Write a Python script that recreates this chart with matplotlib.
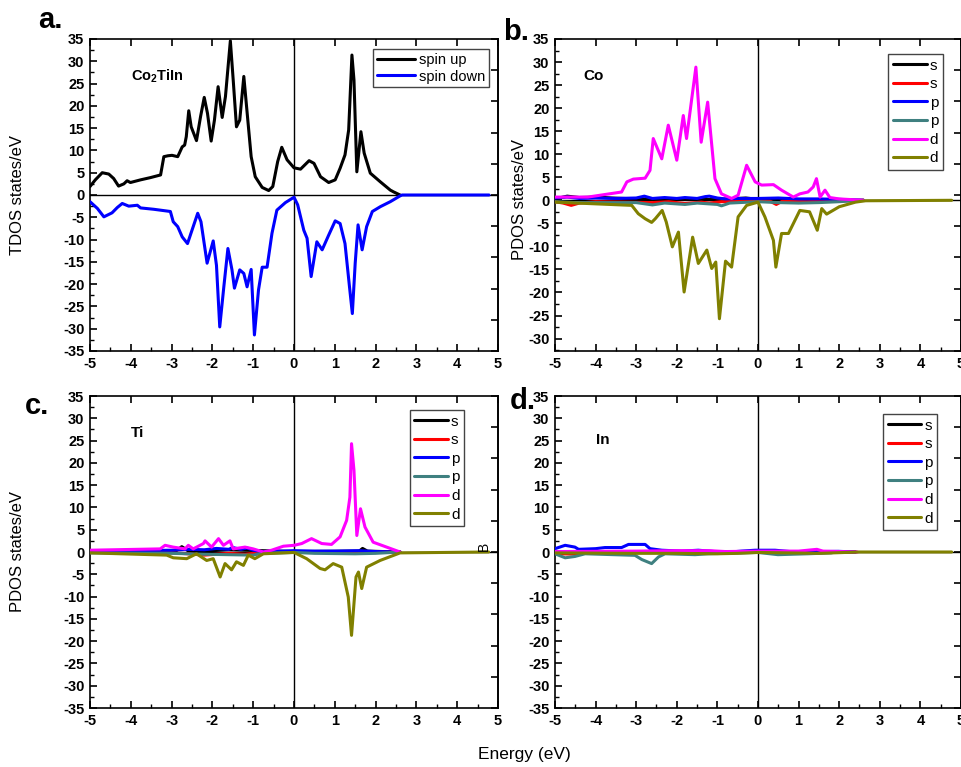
import numpy as np
import matplotlib
matplotlib.use("Agg")
import matplotlib.pyplot as plt
from matplotlib.ticker import MultipleLocator

plt.rcParams['font.family'] = ['Liberation Sans', 'DejaVu Sans']
plt.rcParams['mathtext.fontset'] = 'custom'
plt.rcParams['mathtext.bf'] = 'Liberation Sans:bold'
plt.rcParams['mathtext.rm'] = 'Liberation Sans'

# ---------------- panel a: total DOS of Co2TiIn ----------------
tdos_up_x = [-5.0, -4.87, -4.70, -4.54, -4.42, -4.30, -4.17, -4.09, -4.01, -3.76, -3.52, -3.27,
             -3.19, -3.09, -2.99, -2.85, -2.74, -2.68, -2.64, -2.58, -2.52, -2.39, -2.29, -2.20,
             -2.12, -2.03, -1.95, -1.86, -1.76, -1.68, -1.56, -1.49, -1.41, -1.33, -1.23, -1.14,
             -1.05, -0.95, -0.78, -0.62, -0.52, -0.40, -0.30, -0.17, 0.0, 0.16, 0.37, 0.49, 0.65,
             0.85, 1.01, 1.13, 1.25, 1.34, 1.42, 1.47, 1.54, 1.64, 1.72, 1.87, 2.11, 2.36, 2.44, 2.6]
tdos_up_y = [1.9, 3.4, 5.0, 4.7, 3.7, 2.0, 2.5, 3.2, 2.8, 3.4, 3.9, 4.5,
             8.6, 8.8, 8.9, 8.6, 10.8, 11.2, 13.1, 18.9, 15.3, 12.2, 17.6, 21.9,
             18.3, 12.1, 16.8, 24.3, 17.4, 22.1, 34.6, 25.8, 15.3, 16.8, 26.6, 17.6,
             8.6, 4.1, 1.7, 1.0, 1.9, 7.5, 10.7, 7.9, 6.1, 5.8, 7.7, 7.1, 4.1,
             2.8, 3.4, 6.0, 9.0, 14.6, 31.4, 25.8, 5.2, 14.2, 9.4, 4.9, 3.0, 1.1, 0.7, 0.0]

tdos_dn_x = [-5.0, -4.82, -4.66, -4.46, -4.33, -4.21, -4.05, -3.84, -3.76, -3.44, -3.03, -2.96,
             -2.85, -2.74, -2.61, -2.50, -2.36, -2.28, -2.13, -1.98, -1.90, -1.82, -1.72, -1.62,
             -1.52, -1.46, -1.33, -1.23, -1.15, -1.05, -0.97, -0.87, -0.78, -0.66, -0.54, -0.42,
             -0.21, 0.0, 0.09, 0.24, 0.32, 0.42, 0.56, 0.69, 0.85, 1.01, 1.13, 1.25, 1.36, 1.43,
             1.50, 1.57, 1.67, 1.78, 1.92, 2.12, 2.36, 2.6, 2.65, 3.5, 4.78]
tdos_dn_y = [-1.5, -3.0, -4.9, -4.0, -2.8, -1.9, -2.5, -2.3, -2.9, -3.2, -3.7, -6.0,
             -7.1, -9.4, -10.9, -7.9, -4.1, -6.0, -15.3, -10.3, -15.8, -29.6, -20.6, -12.0,
             -16.8, -20.9, -16.8, -17.6, -20.6, -16.7, -31.4, -21.3, -16.2, -16.2, -8.6, -3.4,
             -1.7, -0.5, -2.2, -7.9, -9.7, -18.3, -10.5, -12.3, -9.0, -5.8, -6.4, -10.9, -20.6, -26.6,
             -15.3, -6.7, -12.3, -7.1, -3.7, -2.6, -1.5, -0.2, 0.0, 0.0, 0.0]

# ---------------- panel b: Co projected DOS ----------------
co_s_up_x = [-5.0, -4.7, -4.4, -4.0, -3.6, -3.0, -2.0, -1.0, -0.3, 0.0, 1.0, 2.6]
co_s_up_y = [0.3, 0.9, 0.6, 0.7, 0.5, 0.3, 0.2, 0.15, 0.5, 0.2, 0.1, 0.0]
co_s_dn_x = [-5.0, -4.8, -4.6, -4.4, -4.0, -2.6, -2.2, -1.8, -1.4, -1.2, -0.9, 0.0, 0.3, 0.45, 0.6, 1.2, 1.6, 2.6]
co_s_dn_y = [-0.3, -0.6, -1.1, -0.6, -0.3, -0.5, -0.3, -0.7, -0.4, -0.6, -0.3, -0.1, -0.2, -0.9, -0.2, -0.3, -0.2, 0.0]
co_p_up_x = [-5.0, -4.7, -4.4, -4.0, -3.5, -3.0, -2.8, -2.6, -2.3, -2.0, -1.8, -1.5, -1.3, -1.2, -1.0,
             -0.8, -0.5, 0.0, 0.5, 1.0, 1.5, 2.0, 2.6]
co_p_up_y = [0.5, 0.7, 0.4, 0.5, 0.4, 0.5, 0.9, 0.4, 0.6, 0.4, 0.6, 0.4, 0.8, 0.9, 0.5,
             0.3, 0.4, 0.4, 0.5, 0.3, 0.3, 0.2, 0.0]
co_p_dn_x = [-5.0, -4.5, -3.0, -2.6, -2.3, -1.8, -1.5, -1.0, -0.9, -0.7, 0.0, 0.5, 1.0, 1.5, 2.0, 2.6]
co_p_dn_y = [-0.3, -0.5, -0.5, -1.0, -0.6, -0.9, -0.6, -0.9, -1.2, -0.6, -0.3, -0.5, -0.6, -0.5, -0.3, 0.0]
co_d_up_x = [-5.0, -4.19, -3.36, -3.23, -3.07, -2.78, -2.66, -2.58, -2.37, -2.21, -2.0, -1.84, -1.76,
             -1.53, -1.40, -1.24, -1.06, -0.90, -0.65, -0.49, -0.28, -0.07, 0.09, 0.38, 0.58, 0.87,
             1.03, 1.23, 1.36, 1.44, 1.53, 1.65, 1.77, 2.0, 2.6]
co_d_up_y = [0.7, 0.7, 1.8, 4.0, 4.6, 4.8, 6.5, 13.4, 9.0, 16.3, 8.7, 18.4, 13.4,
             28.9, 12.6, 21.3, 4.7, 1.4, 0.4, 1.1, 7.6, 4.0, 3.3, 3.4, 2.2, 0.7,
             1.4, 1.8, 2.9, 4.7, 0.7, 2.2, 0.6, 0.3, 0.0]
co_d_dn_x = [-5.0, -3.11, -2.95, -2.78, -2.62, -2.53, -2.36, -2.26, -2.11, -1.96, -1.82, -1.61, -1.47,
             -1.26, -1.14, -1.04, -0.95, -0.80, -0.65, -0.49, -0.28, 0.0, 0.17, 0.38, 0.44, 0.58,
             0.75, 1.03, 1.27, 1.46, 1.57, 1.69, 2.0, 2.4, 2.65, 4.77]
co_d_dn_y = [-0.4, -1.1, -2.9, -4.0, -4.8, -4.0, -2.2, -4.7, -10.1, -6.9, -19.9, -8.0, -13.7,
             -10.8, -14.8, -13.4, -25.7, -13.2, -14.5, -3.6, -1.1, -0.4, -3.6, -8.7, -14.5, -7.2,
             -7.2, -2.2, -2.5, -6.5, -1.8, -3.0, -1.4, -0.4, -0.1, 0.0]

# ---------------- panel c: Ti projected DOS ----------------
ti_s_up_x = [-5.0, -2.9, -2.75, -2.6, -2.0, -1.6, -1.2, 0.0, 1.6, 1.68, 1.8, 2.6]
ti_s_up_y = [0.1, 0.2, 1.2, 0.3, 0.3, 0.5, 0.4, 0.1, 0.2, 0.8, 0.2, 0.0]
ti_s_dn_x = [-5.0, -3.0, -2.6, -2.2, -1.9, -1.6, -1.2, -0.8, 0.0, 2.6]
ti_s_dn_y = [-0.1, -0.2, -0.4, -0.7, -0.5, -0.3, -0.5, -0.1, 0.0, 0.0]
ti_p_up_x = [-5.0, -4.0, -3.0, -2.6, -2.2, -1.9, -1.6, -1.5, -1.3, -1.15, -1.0, -0.8, -0.3, 0.0,
             0.5, 1.0, 1.6, 2.0, 2.6]
ti_p_up_y = [0.3, 0.3, 0.4, 0.6, 0.5, 0.8, 0.6, 1.0, 0.6, 0.9, 0.4, 0.1, 0.2, 0.3,
             0.2, 0.2, 0.3, 0.1, 0.0]
ti_p_dn_x = [-5.0, -3.0, -2.2, -1.6, -1.0, -0.8, 0.0, 0.5, 1.5, 2.0, 2.6]
ti_p_dn_y = [-0.2, -0.3, -0.5, -0.6, -0.7, -0.3, -0.1, -0.3, -0.4, -0.3, 0.0]
ti_d_up_x = [-5.0, -3.28, -3.16, -2.96, -2.67, -2.59, -2.47, -2.22, -2.18, -2.02, -1.85, -1.73,
             -1.57, -1.49, -1.2, -1.0, -0.75, -0.55, -0.26, 0.0, 0.19, 0.43, 0.68, 0.92, 1.13,
             1.29, 1.37, 1.41, 1.47, 1.54, 1.63, 1.74, 1.94, 2.27, 2.6]
ti_d_up_y = [0.4, 0.7, 1.5, 1.1, 0.7, 1.5, 0.7, 1.9, 2.5, 1.1, 3.0, 1.5,
             2.5, 0.7, 1.1, 0.7, 0.0, 0.4, 1.3, 1.5, 1.9, 3.0, 1.9, 1.7, 3.4,
             7.1, 12.3, 24.3, 18.3, 3.7, 9.7, 5.6, 2.2, 1.1, 0.0]
ti_d_dn_x = [-5.0, -3.12, -2.96, -2.63, -2.39, -2.14, -1.98, -1.81, -1.69, -1.53, -1.41, -1.24,
             -1.12, -0.96, -0.75, 0.0, 0.31, 0.64, 0.76, 0.96, 1.17, 1.33, 1.41, 1.52, 1.58,
             1.66, 1.78, 2.11, 2.6, 4.77]
ti_d_dn_y = [-0.2, -0.7, -1.3, -1.5, -0.4, -1.9, -1.5, -5.6, -2.6, -4.0, -2.2, -3.0,
             -0.7, -1.5, -0.4, -0.1, -1.5, -3.7, -4.0, -2.6, -3.4, -10.1, -18.7, -5.6, -4.5,
             -8.2, -3.4, -1.9, -0.2, 0.0]

# ---------------- panel d: In projected DOS ----------------
in_s_up_x = [-5.0, -2.0, 0.0, 2.4]
in_s_up_y = [0.1, 0.1, 0.1, 0.0]
in_s_dn_x = [-5.0, -4.9, -4.42, -4.3, 0.0, 2.4]
in_s_dn_y = [-0.2, -0.4, -0.5, -0.1, 0.0, 0.0]
in_p_up_x = [-5.0, -4.75, -4.51, -4.42, -4.0, -3.77, -3.36, -3.19, -2.78, -2.66, -2.37, -1.88,
             -1.47, -1.14, -0.81, -0.41, -0.07, 0.42, 0.91, 1.98, 2.4]
in_p_up_y = [0.75, 1.5, 1.1, 0.6, 0.75, 1.0, 1.0, 1.7, 1.7, 0.75, 0.4, 0.2,
             0.4, 0.15, -0.1, 0.2, 0.4, 0.4, 0.0, 0.15, 0.0]
in_p_dn_x = [-5.0, -4.75, -4.51, -4.26, -3.03, -2.86, -2.62, -2.45, -2.29, -1.55, -1.22, 0.0,
             0.49, 1.23, 1.8, 1.9]
in_p_dn_y = [-0.4, -1.3, -1.0, -0.4, -0.75, -1.7, -2.6, -1.1, -0.4, -0.6, -0.4, -0.1,
             -0.6, -0.4, -0.2, 0.0]
in_d_up_x = [-5.0, -3.0, -2.0, -1.2, -0.8, 0.0, 1.0, 1.45, 1.6, 2.45]
in_d_up_y = [0.1, 0.2, 0.3, 0.3, 0.1, 0.2, 0.2, 0.6, 0.2, 0.0]
in_d_dn_x = [-5.0, -3.0, -2.0, -1.0, -0.5, 0.0, 1.5, 2.5, 4.77]
in_d_dn_y = [-0.2, -0.3, -0.3, -0.4, -0.3, -0.1, -0.3, 0.0, 0.0]

orbital_labels = ['s', 's', 'p', 'p', 'd', 'd']
orbital_colors = ['#000000', '#ff0000', '#0000ff', '#3f8080', '#ff00ff', '#808000']

W, H = 962, 767
fig = plt.figure(figsize=(W / 100, H / 100), dpi=100)


def axes_px(left, top, right, bottom):
    return fig.add_axes([left / W, 1 - bottom / H, (right - left) / W, (bottom - top) / H])


def style_axes(ax, ylim):
    ax.set_xlim(-5, 5)
    ax.xaxis.set_minor_locator(MultipleLocator(0.5))
    ax.yaxis.set_minor_locator(MultipleLocator(2.5))
    ax.tick_params(which='major', direction='in', length=5, width=1.2,
                   top=True, right=False, labelsize=10.5, pad=4)
    ax.tick_params(which='minor', direction='in', length=3, width=1.0,
                   top=False, right=False)
    for sp in ax.spines.values():
        sp.set_linewidth(1.2)
    ax.set_xticks(np.arange(-5, 6, 1))
    ax.set_xticklabels([f"{v:d}" for v in range(-5, 6)], fontweight='bold')
    yt = np.arange(-35, 36, 5)
    ax.set_yticks(yt)
    ax.set_yticklabels([f"{v:d}" for v in yt], fontweight='bold')
    ax.set_ylim(*ylim)
    # right-hand axis carries ten equal divisions of the y range
    sec = ax.secondary_yaxis('right')
    sec.set_yticks(np.linspace(ylim[0], ylim[1], 11))
    sec.tick_params(direction='in', length=5, width=1.2, labelright=False)
    sec.spines['right'].set_linewidth(1.2)
    ax.axhline(0, color='black', lw=1.0, zorder=1)
    ax.axvline(0, color='black', lw=1.0, zorder=1)


LW = 2.2
line_kw = dict(lw=LW, solid_joinstyle='round', solid_capstyle='round', zorder=3)

# panel a
ax_a = axes_px(90, 39, 498, 351)
style_axes(ax_a, (-35, 35))
ax_a.plot(tdos_up_x, tdos_up_y, color='black', label='spin up', **line_kw)
ax_a.plot(tdos_dn_x, tdos_dn_y, color='#0000ff', label='spin down', **line_kw)
ax_a.text(0.10, 0.88, r'Co$_{\mathbf{2}}$TiIn', transform=ax_a.transAxes,
          fontsize=10.5, fontweight='bold', va='center')
leg = ax_a.legend(loc='upper right', bbox_to_anchor=(0.978, 0.968), fontsize=10.5,
                  handlelength=2.6, handletextpad=0.3, labelspacing=0.2,
                  borderpad=0.25, borderaxespad=0.0, fancybox=False, framealpha=1,
                  edgecolor='#444444')
leg.get_frame().set_linewidth(1.0)


def pdos_panel(ax, series, name, name_pos, legend_anchor):
    for (x, y), lab, col in zip(series, orbital_labels, orbital_colors):
        ax.plot(x, y, color=col, label=lab, **line_kw)
    ax.text(name_pos[0], name_pos[1], name, transform=ax.transAxes,
            fontsize=11, fontweight='bold', va='center')
    lg = ax.legend(loc='upper right', bbox_to_anchor=legend_anchor, fontsize=11,
                   handlelength=2.2, handletextpad=0.2, labelspacing=0.3,
                   borderpad=0.3, borderaxespad=0.0, fancybox=False, framealpha=1,
                   edgecolor='#444444')
    lg.get_frame().set_linewidth(1.0)


# panel b
ax_b = axes_px(555, 39, 961, 351)
style_axes(ax_b, (-32.7, 35))
pdos_panel(ax_b,
           [(co_s_up_x, co_s_up_y), (co_s_dn_x, co_s_dn_y), (co_p_up_x, co_p_up_y),
            (co_p_dn_x, co_p_dn_y), (co_d_up_x, co_d_up_y), (co_d_dn_x, co_d_dn_y)],
           'Co', (0.07, 0.88), (0.955, 0.952))

# panel c
ax_c = axes_px(90, 396, 498, 708)
style_axes(ax_c, (-35, 35))
pdos_panel(ax_c,
           [(ti_s_up_x, ti_s_up_y), (ti_s_dn_x, ti_s_dn_y), (ti_p_up_x, ti_p_up_y),
            (ti_p_dn_x, ti_p_dn_y), (ti_d_up_x, ti_d_up_y), (ti_d_dn_x, ti_d_dn_y)],
           'Ti', (0.10, 0.88), (0.917, 0.955))

# panel d
ax_d = axes_px(555, 396, 961, 708)
style_axes(ax_d, (-35, 35))
pdos_panel(ax_d,
           [(in_s_up_x, in_s_up_y), (in_s_dn_x, in_s_dn_y), (in_p_up_x, in_p_up_y),
            (in_p_dn_x, in_p_dn_y), (in_d_up_x, in_d_up_y), (in_d_dn_x, in_d_dn_y)],
           'In', (0.10, 0.86), (0.942, 0.942))

# axis titles and panel letters
fig.text(18 / W, 1 - 195 / H, 'TDOS states/eV', rotation=90, fontsize=12,
         ha='center', va='center')
fig.text(520 / W, 1 - 200 / H, 'PDOS states/eV', rotation=90, fontsize=12,
         ha='center', va='center')
fig.text(18 / W, 1 - 552 / H, 'PDOS states/eV', rotation=90, fontsize=12,
         ha='center', va='center')
fig.text(524 / W, 1 - 755 / H, 'Energy (eV)', fontsize=12.5, ha='center', va='center')
fig.text(484 / W, 1 - 546 / H, 'B', rotation=90, fontsize=10, ha='center', va='center')

for letter, (lx, ly) in {'a.': (38, 28), 'b.': (503, 40), 'c.': (25, 414), 'd.': (510, 409)}.items():
    fig.text(lx / W, 1 - ly / H, letter, fontsize=21, fontweight='bold',
             ha='left', va='baseline')

fig.savefig('out.png', dpi=100)
